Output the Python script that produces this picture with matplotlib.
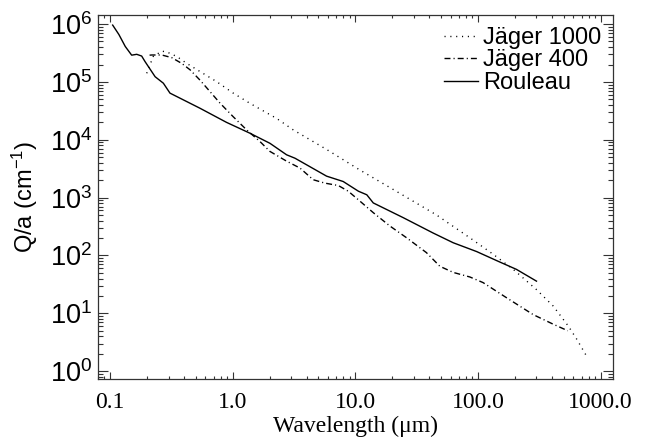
import matplotlib
matplotlib.use("Agg")
import matplotlib.pyplot as plt
from matplotlib.ticker import LogLocator, FixedLocator, FixedFormatter, NullFormatter

plt.rcParams["font.family"] = ["Liberation Sans", "DejaVu Sans"]
plt.rcParams["mathtext.default"] = "regular"

# ── Data ───────────────────────────────────────────────────────────────────────
rouleau_wl = [0.105, 0.118, 0.133, 0.150, 0.165, 0.181, 0.193, 0.233, 0.272,
              0.308, 0.542, 0.89, 1.38, 2.01, 2.75, 3.22, 5.83, 7.96, 10.6,
              12.4, 14.0, 24.6, 43.0, 62.8, 97.4, 150.8, 206.0, 300.0]
rouleau_q = [9.6e5, 6.6e5, 4.1e5, 2.9e5, 3.0e5, 2.8e5, 2.24e5, 1.23e5,
             9.5e4, 6.4e4, 3.5e4, 2.0e4, 1.3e4, 8.7e3, 5.5e3, 4.8e3, 2.35e3,
             1.9e3, 1.29e3, 1.12e3, 8.1e2, 4.5e2, 2.45e2, 1.66e2, 1.17e2,
             77.0, 57.5, 36.0]

jager400_wl = [0.21, 0.219, 0.264, 0.318, 0.384, 0.449, 0.542, 0.653, 0.788,
               1.01, 1.3, 1.67, 2.01, 2.75, 3.54, 4.53, 5.65, 7.26, 8.76,
               10.9, 14.0, 19.1, 26.2, 38.0, 48.9, 62.8, 85.9, 110.0, 171.0,
               282.0, 410.0, 540.0]
jager400_q = [2.9e5, 2.92e5, 2.92e5, 2.63e5, 2.09e5, 1.62e5, 1.07e5, 6.8e4,
              4.3e4, 2.5e4, 1.48e4, 9.3e3, 6.3e3, 4.27e3, 3.24e3, 2.04e3,
              1.78e3, 1.62e3, 1.29e3, 8.7e2, 5.5e2, 3.24e2, 2.02e2, 1.12e2,
              65.0, 51.0, 42.5, 34.0, 18.6, 9.5, 6.5, 5.0]

jager1000_wl = [0.199, 0.211, 0.225, 0.264, 0.29, 0.35, 0.422, 0.542, 0.74,
                1.01, 1.38, 2.28, 3.12, 5.83, 10.9, 20.4, 46.0, 85.9, 133.0,
                194.0, 300.0, 410.0, 546.0, 640.0, 766.0]
jager1000_q = [1.41e5, 1.95e5, 2.75e5, 3.4e5, 3.3e5, 2.75e5, 2.09e5, 1.51e5,
               1.01e5, 6.4e4, 4.27e4, 2.34e4, 1.48e4, 6.8e3, 3.0e3, 1.38e3,
               5.0e2, 2.02e2, 1.05e2, 57.5, 25.7, 13.4, 6.0, 3.55, 1.84]

X_TICKS = [0.1, 1.0, 10.0, 100.0, 1000.0]
X_LABELS = ["0.1", "1.0", "10.0", "100.0", "1000.0"]
Y_TICKS = [1, 10, 100, 1e3, 1e4, 1e5, 1e6]
Y_LABELS = [r"$10^{%d}$" % i for i in range(7)]

FS = 17
AX_CLR = "#333333"

fig = plt.figure(figsize=(6.52, 4.44), dpi=100)
ax = fig.add_axes([0.150, 0.146, 0.790, 0.820])

ax.plot(jager1000_wl, jager1000_q, color="black", lw=1.0,
        linestyle=(0, (0.8, 3.4)), label="Jäger 1000")
ax.plot(jager400_wl, jager400_q, color="black", lw=1.0,
        linestyle=(0, (4.3, 2.2, 0.8, 2.2)), label="Jäger 400")
ax.plot(rouleau_wl, rouleau_q, color="black", lw=1.0, label="Rouleau")

ax.set_xscale("log")
ax.set_yscale("log")
ax.set_xlim(10 ** -1.1, 10 ** 3.1)
ax.set_ylim(10 ** -0.138, 10 ** 6.155)

ax.xaxis.set_major_locator(FixedLocator(X_TICKS))
ax.xaxis.set_major_formatter(FixedFormatter(X_LABELS))
ax.xaxis.set_minor_locator(LogLocator(base=10, subs=range(2, 10), numticks=20))
ax.xaxis.set_minor_formatter(NullFormatter())
ax.yaxis.set_major_locator(FixedLocator(Y_TICKS))
ax.yaxis.set_major_formatter(FixedFormatter(Y_LABELS))
ax.yaxis.set_minor_locator(LogLocator(base=10, subs=range(2, 10), numticks=20))
ax.yaxis.set_minor_formatter(NullFormatter())

ax.tick_params(axis="both", which="both", direction="in", top=True, right=True,
               color=AX_CLR, width=0.8)
ax.tick_params(axis="x", which="major", length=5, pad=9, labelsize=FS)
ax.tick_params(axis="x", which="minor", length=2.5)
ax.tick_params(axis="y", which="major", length=7, pad=4, labelsize=19.5)
ax.tick_params(axis="y", which="minor", length=3.6)
for lbl in ax.get_xticklabels():
    lbl.set_fontfamily(["Liberation Serif", "DejaVu Serif"])
for sp in ax.spines.values():
    sp.set_color(AX_CLR)
    sp.set_linewidth(0.9)

ax.set_xlabel("Wavelength (μm)", fontsize=FS,
              fontfamily=["Liberation Serif", "DejaVu Serif"], labelpad=2)
ax.set_ylabel(r"Q/a (cm$^{-1}$)", fontsize=FS, labelpad=7)

ax.legend(loc="upper right", frameon=False, fontsize=FS, handlelength=1.45,
          handletextpad=0.2, labelspacing=0.02, borderaxespad=0.4,
          borderpad=0.1)

fig.savefig("out.png", dpi=100)
